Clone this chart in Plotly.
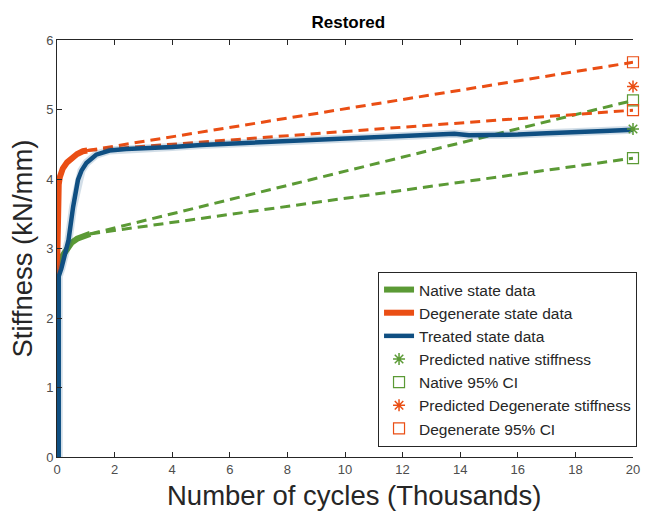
import plotly.graph_objects as go

# Measured stiffness vs. cycle count (thousands of cycles)
native_x = [0.0, 0.03, 0.1, 0.2, 0.35, 0.5, 0.7, 0.9, 1.15]
native_y = [2.55, 2.66, 2.78, 2.9, 3.01, 3.08, 3.14, 3.18, 3.21]

degen_x = [0.0, 0.01, 0.03, 0.06, 0.1, 0.2, 0.35, 0.5, 0.7, 0.9, 1.05]
degen_y = [2.62, 3.2, 3.7, 3.92, 4.03, 4.15, 4.24, 4.3, 4.36, 4.4, 4.41]

treated_x = [0.06, 0.06, 0.15, 0.3, 0.4, 0.56, 0.73, 0.85, 1.02, 1.36, 1.82, 2.4,
             3, 4, 5, 6, 7, 8, 9, 10, 11, 12, 13, 13.8, 14.3, 15, 16, 17, 18, 19, 20]
treated_y = [0.0, 2.6, 2.71, 2.95, 3.12, 3.6, 3.99, 4.12, 4.23, 4.35, 4.41, 4.43,
             4.44, 4.46, 4.49, 4.51, 4.53, 4.55, 4.57, 4.59, 4.61, 4.63, 4.64, 4.65,
             4.63, 4.63, 4.64, 4.66, 4.67, 4.69, 4.71]

# Predictions at the end of the test
pred_cycle = 20
native_pred = 4.72
native_ci = [5.13, 4.30]
degen_pred = 5.33
degen_ci = [5.68, 4.99]

GREEN = "#5b9a35"
RED = "#ea4e14"
BLUE = "#0f4f82"
AXIS = "#262626"
FONT = "Liberation Sans, Arial, sans-serif"

fig = go.Figure()

# dashed extrapolations from the last measured point to each confidence bound
for ci in native_ci:
    fig.add_trace(go.Scatter(x=[native_x[-1], pred_cycle], y=[native_y[-1], ci],
                             mode="lines", showlegend=False, hoverinfo="skip",
                             line=dict(color=GREEN, width=3, dash="10px,6px")))
for ci in degen_ci:
    fig.add_trace(go.Scatter(x=[degen_x[-1], pred_cycle], y=[degen_y[-1], ci],
                             mode="lines", showlegend=False, hoverinfo="skip",
                             line=dict(color=RED, width=3, dash="10px,6px")))

# measured data
fig.add_trace(go.Scatter(x=native_x, y=native_y, mode="lines", name="Native state data",
                         line=dict(color=GREEN, width=6)))
fig.add_trace(go.Scatter(x=degen_x, y=degen_y, mode="lines", name="Degenerate state data",
                         line=dict(color=RED, width=6)))
fig.add_trace(go.Scatter(x=treated_x, y=treated_y, mode="lines", showlegend=False,
                         hoverinfo="skip", opacity=0.18,
                         line=dict(color=BLUE, width=8)))
fig.add_trace(go.Scatter(x=treated_x, y=treated_y, mode="lines", name="Treated state data",
                         line=dict(color=BLUE, width=4.5)))

# predicted values and intervals
fig.add_trace(go.Scatter(x=[pred_cycle], y=[native_pred], mode="markers",
                         name="Predicted native stiffness", cliponaxis=False,
                         marker=dict(symbol="asterisk-open", size=10, color=GREEN,
                                     line=dict(color=GREEN, width=1.5))))
fig.add_trace(go.Scatter(x=[pred_cycle] * len(native_ci), y=native_ci, mode="markers",
                         name="Native 95% CI", cliponaxis=False,
                         marker=dict(symbol="square-open", size=11, color=GREEN,
                                     line=dict(color=GREEN, width=1.2))))
fig.add_trace(go.Scatter(x=[pred_cycle], y=[degen_pred], mode="markers",
                         name="Predicted Degenerate stiffness", cliponaxis=False,
                         marker=dict(symbol="asterisk-open", size=10, color=RED,
                                     line=dict(color=RED, width=1.5))))
fig.add_trace(go.Scatter(x=[pred_cycle] * len(degen_ci), y=degen_ci, mode="markers",
                         name="Degenerate 95% CI", cliponaxis=False,
                         marker=dict(symbol="square-open", size=11, color=RED,
                                     line=dict(color=RED, width=1.2))))

fig.update_layout(
    width=648, height=514,
    margin=dict(l=57, r=8, t=40, b=57),
    paper_bgcolor="white", plot_bgcolor="white",
    font=dict(family=FONT, color=AXIS),
    title=dict(text="<b>Restored</b>", x=0.5375, xanchor="center", y=0.958, yanchor="middle",
               font=dict(size=17, color="black")),
    xaxis=dict(range=[0, 20], tickvals=list(range(0, 21, 2)),
               showline=True, linecolor=AXIS, linewidth=1, mirror="ticks",
               ticks="inside", ticklen=5, tickcolor=AXIS, showgrid=False, zeroline=False,
               tickfont=dict(size=13, color="#4d4d4d")),
    yaxis=dict(range=[0, 6], tickvals=list(range(0, 7)),
               showline=True, linecolor=AXIS, linewidth=1,
               ticks="inside", ticklen=5, tickcolor=AXIS, showgrid=False, zeroline=False,
               tickfont=dict(size=13, color="#4d4d4d"),
               title=dict(text="Stiffness (kN/mm)", font=dict(size=27.5, color=AXIS),
                          standoff=5)),
    legend=dict(x=1.007, xanchor="right", y=0.024, yanchor="bottom",
                bgcolor="white", bordercolor=AXIS, borderwidth=1,
                font=dict(size=15.5, color=AXIS), tracegroupgap=0,
                itemwidth=30),
    showlegend=True,
)

# x-axis caption, set slightly right of the axis centre
fig.add_annotation(text="Number of cycles (Thousands)", xref="paper", yref="paper",
                   x=0.516, y=-0.092, xanchor="center", yanchor="middle", showarrow=False,
                   font=dict(size=27.5, color=AXIS, family=FONT))

fig.write_html("out.html")
